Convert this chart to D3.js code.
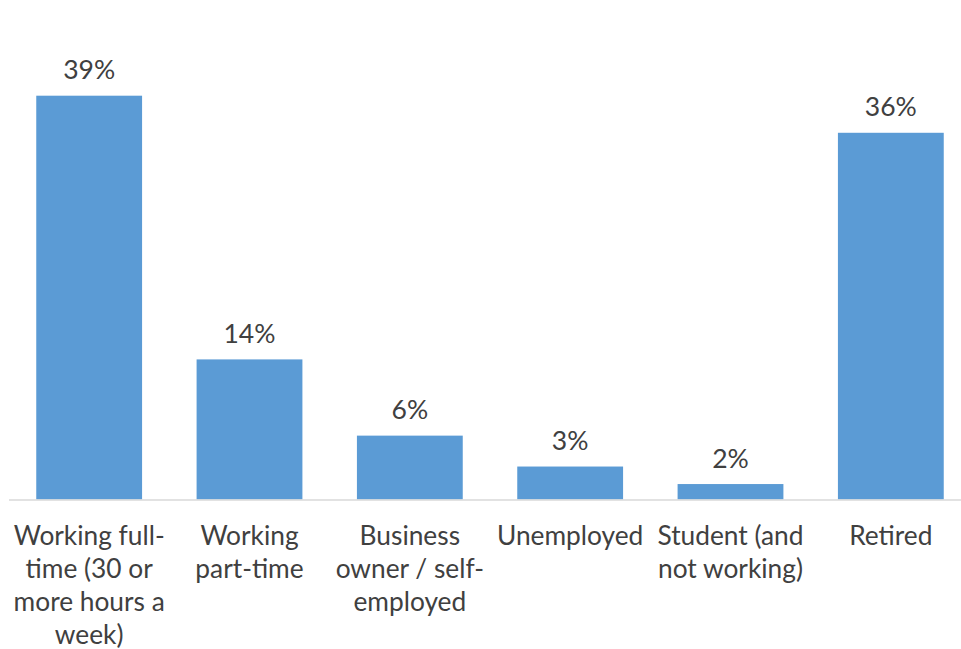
<!DOCTYPE html>
<html>
<head>
<meta charset="utf-8">
<script src="https://cdn.jsdelivr.net/npm/d3@7"></script>
<style>
  html, body { margin: 0; padding: 0; background: #fff; }
  svg text { font-family: Lato, "Open Sans", sans-serif; fill: #404040; }
</style>
</head>
<body>
<svg id="chart" width="961" height="649"></svg>
<script>
const categories = [
  "Working full-time (30 or more hours a week)",
  "Working part-time",
  "Business owner / self-employed",
  "Unemployed",
  "Student (and not working)",
  "Retired"
];
const categoryLines = [
  ["Working full-", "time (30 or", "more hours a", "week)"],
  ["Working", "part-time"],
  ["Business", "owner / self-", "employed"],
  ["Unemployed"],
  ["Student (and", "not working)"],
  ["Retired"]
];
const values = [39.2, 13.6, 6.2, 3.2, 1.5, 35.6];

const svg = d3.select("#chart");
const baseline = 499.5;
const yTop = 95.7;

const x = d3.scaleBand()
  .domain(categories)
  .range([9, 971])
  .paddingInner(0.34)
  .paddingOuter(0.17);

const y = d3.scaleLinear()
  .domain([0, 39.2])
  .range([baseline, yTop]);

svg.append("g").selectAll("rect")
  .data(values)
  .join("rect")
  .attr("x", (d, i) => x(categories[i]))
  .attr("width", x.bandwidth())
  .attr("y", d => y(d))
  .attr("height", d => baseline - y(d))
  .attr("fill", "#5b9bd5");

svg.append("line")
  .attr("x1", 9).attr("x2", 961)
  .attr("y1", baseline + 0.5).attr("y2", baseline + 0.5)
  .attr("stroke", "#d9d9d9").attr("stroke-width", 1.5);

svg.append("g").selectAll("text")
  .data(values)
  .join("text")
  .attr("x", (d, i) => x(categories[i]) + x.bandwidth() / 2)
  .attr("y", d => y(d) - 16.5)
  .attr("text-anchor", "middle")
  .attr("font-size", 26.5)
  .text(d => Math.round(d) + "%");

const labels = svg.append("g").selectAll("text")
  .data(categories)
  .join("text")
  .attr("x", d => x(d) + x.bandwidth() / 2)
  .attr("y", 545)
  .attr("text-anchor", "middle")
  .attr("font-size", 26.3);

labels.each(function(d, i) {
  const t = d3.select(this);
  categoryLines[i].forEach((line, j) => {
    t.append("tspan")
      .attr("x", x(d) + x.bandwidth() / 2)
      .attr("y", 545 + j * 33)
      .text(line);
  });
});
</script>
</body>
</html>
